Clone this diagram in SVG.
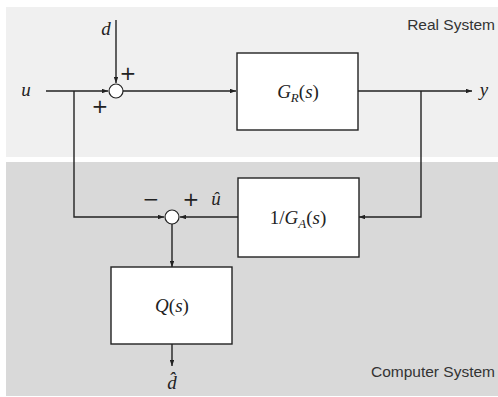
<svg xmlns="http://www.w3.org/2000/svg" width="498" height="397" viewBox="0 0 498 397">
<defs>
<marker id="arr" viewBox="0 0 8 6" refX="8" refY="3" markerWidth="6" markerHeight="4.5" markerUnits="userSpaceOnUse" orient="auto">
<path d="M0,0 L8,3 L0,6 Z" fill="#222"/>
</marker>
</defs>
<style>
.ln{fill:none;stroke:#222;stroke-width:1.4}
.arr{marker-end:url(#arr)}
.box{fill:#fff;stroke:#222;stroke-width:1.4}
.sum{fill:#fff;stroke:#222;stroke-width:1.2}
.m{font-family:"Liberation Serif","DejaVu Serif",serif;font-style:italic;font-size:19px;fill:#222}
.n{font-style:normal}
.sg{font-family:"DejaVu Sans","Liberation Sans",sans-serif;font-size:20px;fill:#222}
.lab{font-family:"Liberation Sans",Arial,sans-serif;font-size:15.5px;fill:#333}
</style>
<rect x="0" y="0" width="498" height="397" fill="#fff"/>
<rect x="6" y="7" width="492" height="150" fill="#f0f0f0"/>
<rect x="6" y="162" width="492" height="234" fill="#d9d9d9"/>
<text class="lab" x="495" y="30" text-anchor="end">Real System</text>
<text class="lab" x="495" y="377" text-anchor="end">Computer System</text>

<g id="connectors">
<path class="ln arr" d="M46,91 H108"/>
<path class="ln arr" d="M116,20 V83"/>
<path class="ln arr" d="M123,91 H236"/>
<path class="ln arr" d="M358,91 H472"/>
<path class="ln arr" d="M421,91 V217 H359"/>
<path class="ln arr" d="M74,91 V217 H164"/>
<path class="ln arr" d="M238,217 H180"/>
<path class="ln arr" d="M172,224 V267"/>
<path class="ln arr" d="M172,344 V366"/>
</g>

<g id="sum1">
<circle class="sum" cx="116" cy="91" r="7"/>
<text class="sg" x="128" y="80" text-anchor="middle">+</text>
<text class="sg" x="100" y="113" text-anchor="middle">+</text>
</g>
<g id="sum2">
<circle class="sum" cx="172" cy="217" r="7"/>
<text class="sg" x="151" y="206" text-anchor="middle">−</text>
<text class="sg" x="191" y="206" text-anchor="middle">+</text>
</g>

<g id="u"><text class="m" x="26" y="96" text-anchor="middle">u</text></g>
<g id="d"><text class="m" x="106" y="35" text-anchor="middle">d</text></g>
<g id="y"><text class="m" x="484" y="96" text-anchor="middle">y</text></g>
<g id="uhat"><text class="m" x="216" y="205" text-anchor="middle">û</text></g>
<g id="dhat"><text class="m" x="172" y="389" text-anchor="middle">d̂</text></g>

<g id="GR">
<rect class="box" x="237" y="53" width="121" height="77"/>
<text class="m" x="298" y="98" text-anchor="middle">G<tspan font-size="13" dy="4">R</tspan><tspan class="n" dy="-4">(</tspan>s<tspan class="n">)</tspan></text>
</g>
<g id="GA">
<rect class="box" x="238" y="178" width="121" height="79"/>
<text class="m" x="298" y="224" text-anchor="middle"><tspan class="n">1/</tspan>G<tspan font-size="13" dy="4">A</tspan><tspan class="n" dy="-4">(</tspan>s<tspan class="n">)</tspan></text>
</g>
<g id="Q">
<rect class="box" x="111" y="267" width="121" height="77"/>
<text class="m" x="172" y="312" text-anchor="middle">Q<tspan class="n">(</tspan>s<tspan class="n">)</tspan></text>
</g>
</svg>
